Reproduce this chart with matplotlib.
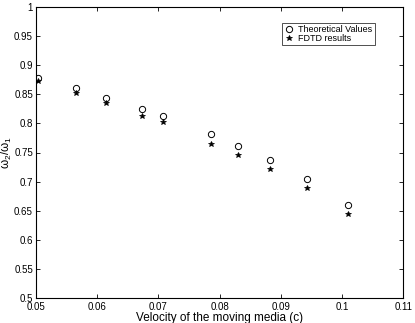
import matplotlib
matplotlib.use("Agg")
import matplotlib.pyplot as plt

plt.rcParams['font.family'] = ['Liberation Sans', 'DejaVu Sans']
plt.rcParams['mathtext.fontset'] = 'custom'
plt.rcParams['mathtext.rm'] = 'Liberation Sans'

# velocity of the moving media (c)
velocity = [0.0503, 0.0565, 0.0615, 0.0673, 0.0707, 0.0786, 0.0831, 0.0882, 0.0943, 0.1010]
theory = [0.878, 0.860, 0.844, 0.824, 0.813, 0.781, 0.761, 0.737, 0.704, 0.659]
fdtd = [0.873, 0.853, 0.835, 0.812, 0.802, 0.764, 0.745, 0.722, 0.689, 0.644]

xticks = [0.05, 0.06, 0.07, 0.08, 0.09, 0.1, 0.11]
xticklabels = ['0.05', '0.06', '0.07', '0.08', '0.09', '0.1', '0.11']
yticks = [0.5, 0.55, 0.6, 0.65, 0.7, 0.75, 0.8, 0.85, 0.9, 0.95, 1.0]
yticklabels = ['0.5', '0.55', '0.6', '0.65', '0.7', '0.75', '0.8', '0.85', '0.9', '0.95', '1']

fig = plt.figure(figsize=(4.15, 3.23), dpi=100)
ax = fig.add_axes([35.7 / 415, 1 - 298 / 323, 367.6 / 415, 291 / 323])

ax.plot(velocity, theory, 'o', mfc='none', mec='black', ms=4.5, mew=0.7,
        label='Theoretical Values')
ax.plot(velocity, fdtd, '*', color='black', ms=4, mew=0.5,
        label='FDTD results')

ax.set_xlim(0.05, 0.11)
ax.set_ylim(0.5, 1.0)
ax.set_xticks(xticks)
ax.set_xticklabels(xticklabels)
ax.set_yticks(yticks)
ax.set_yticklabels(yticklabels)
ax.tick_params(direction='in', top=True, right=True, length=3, width=0.6,
               labelsize=7)
ax.tick_params(axis='x', pad=3)
ax.tick_params(axis='y', pad=2)
for s in ax.spines.values():
    s.set_linewidth(0.8)

ax.set_xlabel('Velocity of the moving media (c)', fontsize=8.5, labelpad=0)
ax.set_ylabel(r'$\mathregular{\omega_2/\omega_1}$', fontsize=8.5, labelpad=0)

leg = ax.legend(loc='upper left', bbox_to_anchor=(246 / 367.6, 1 - 15.5 / 291),
                fontsize=6.5, frameon=True, fancybox=False, edgecolor='black',
                borderpad=0.25, handletextpad=0.4, labelspacing=0.05,
                handlelength=1.2, borderaxespad=0)
leg.get_frame().set_linewidth(0.6)

fig.savefig('out.png', dpi=100)
